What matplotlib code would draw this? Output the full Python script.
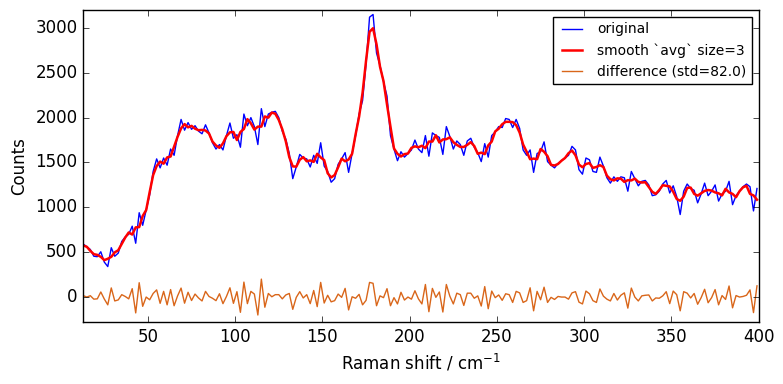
import numpy as np
import pandas as pd
import matplotlib

matplotlib.use("Agg")
import matplotlib.pyplot as plt

# Raman spectrum, one value every 2 cm^-1 starting at 13
start_shift = 13.0
step_shift = 2.0
counts = [
    590, 560, 530, 455, 450, 505, 390, 340, 550, 455,
    490, 620, 670, 700, 790, 600, 940, 800, 970, 1140,
    1400, 1540, 1440, 1550, 1470, 1650, 1580, 1800, 1980, 1860,
    1945, 1870, 1910, 1850, 1820, 1920, 1830, 1720, 1650, 1700,
    1640, 1800, 1940, 1770, 1810, 1670, 2040, 1910, 2000, 1900,
    1700, 2100, 1900, 2040, 2060, 2070, 2000, 1850, 1760, 1600,
    1320, 1450, 1590, 1550, 1540, 1450, 1580, 1490, 1720, 1460,
    1400, 1280, 1320, 1480, 1540, 1610, 1390, 1600, 1800, 2040,
    2190, 2600, 3120, 3150, 2720, 2580, 2400, 2240, 1800, 1650,
    1520, 1620, 1560, 1600, 1640, 1750, 1650, 1610, 1800, 1570,
    1830, 1800, 1780, 1590, 1900, 1790, 1650, 1740, 1700, 1580,
    1740, 1770, 1670, 1610, 1510, 1710, 1560, 1800, 1840, 1900,
    1890, 1990, 1980, 1890, 1980, 1880, 1640, 1580, 1640, 1390,
    1600, 1620, 1730, 1510, 1470, 1440, 1490, 1520, 1550, 1580,
    1680, 1640, 1420, 1370, 1550, 1530, 1400, 1390, 1560, 1460,
    1330, 1270, 1340, 1290, 1340, 1330, 1180, 1400, 1320, 1240,
    1290, 1300, 1250, 1130, 1140, 1180, 1260, 1300, 1160, 1240,
    1120, 920, 1180, 1260, 1210, 1190, 1050, 1150, 1270, 1130,
    1180, 1250, 1070, 1150, 1180, 1290, 1030, 1130, 1180, 1230,
    1260, 1230, 960, 1210,
]
smooth_size = 3
diff_std_label = 82.0


def main() -> None:
    y = np.asarray(counts, dtype=float)
    x = start_shift + step_shift * np.arange(len(y))
    smooth = pd.Series(y).rolling(smooth_size, center=True, min_periods=1).mean().to_numpy()
    diff = y - smooth

    plt.style.use("classic")
    plt.rcParams["mathtext.fontset"] = "dejavusans"
    fig = plt.figure(figsize=(7.83, 3.84), dpi=100, facecolor="white")
    ax = fig.add_axes([0.106, 0.161, 0.863, 0.813])

    ax.plot(x, y, color="blue", lw=1.0, label="original")
    ax.plot(x, smooth, color="red", lw=1.8, label=f"smooth `avg` size={smooth_size}")
    ax.plot(x, diff, color="#d9661a", lw=1.0, label=f"difference (std={diff_std_label:.1f})")

    ax.set_xlim(12.8, 400)
    ax.set_ylim(-280, 3200)
    ax.set_xticks([50, 100, 150, 200, 250, 300, 350, 400])
    ax.set_yticks([0, 500, 1000, 1500, 2000, 2500, 3000])
    ax.tick_params(labelsize=12)
    ax.set_xlabel("Raman shift / cm$^{-1}$", fontsize=12)
    ax.set_ylabel("Counts", fontsize=12)
    ax.legend(loc="upper right", fontsize=10, handlelength=2.0)

    fig.savefig("out.png", dpi=100, facecolor="white")
    plt.close(fig)


if __name__ == "__main__":
    main()
